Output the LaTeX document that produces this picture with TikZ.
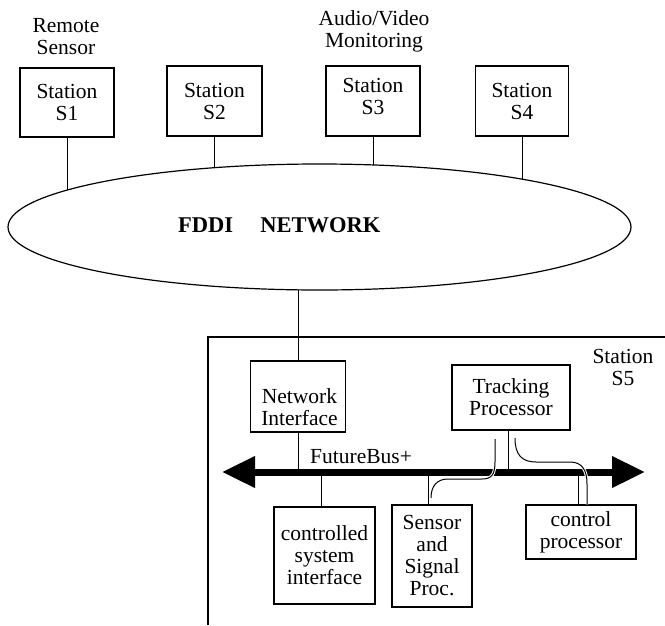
\documentclass[tikz,border=0pt]{standalone}
\usepackage{fontspec}
\setmainfont{Liberation Serif}
\usetikzlibrary{shapes.geometric,arrows.meta}
\begin{document}
\begin{tikzpicture}[x=1pt,y=-1pt,
  box/.style={draw, line width=1.1pt, rectangle, inner sep=0pt, align=center},
  txt/.style={inner sep=0pt, align=center},
  conn/.style={line width=1pt},
  wire/.style={line width=1pt, preaction={draw=white, line width=3pt}},
  busline/.style={line width=7pt, {Triangle[length=33pt,width=30pt]}-{Triangle[length=33pt,width=30pt]}},
  font=\fontsize{21.5}{22}\selectfont]
\useasboundingbox (0,0) rectangle (665,625);

% top labels
\node[txt] (rs) at (66,36.5) {Remote\\Sensor};
\node[txt] (av) at (374,31) {Audio/Video\\Monitoring};

% stations
\node[box, minimum width=94pt, minimum height=69pt] (s1) at (67,102.5) {Station\\S1};
\node[box, minimum width=95pt, minimum height=70pt] (s2) at (214.5,101) {Station\\S2};
\node[box, minimum width=94pt, minimum height=70pt] (s3) at (373,101) {};
\node[txt] (s3t) at (373,96) {Station\\S3};
\node[box, minimum width=93pt, minimum height=70pt] (s4) at (522,101) {Station\\S4};

% FDDI ring
\node[draw, ellipse, line width=1.2pt, minimum width=623pt, minimum height=126pt, inner sep=0pt] (net) at (319.5,227) {};
\node[txt, anchor=base west, font=\fontsize{22.5}{23}\selectfont\bfseries] (netlab) at (178,232.5) {FDDI\hspace{21.5pt} NETWORK};

\coordinate (e1) at (67,190.1);
\coordinate (e2) at (214.5,167.7);
\coordinate (e3) at (373,164.9);
\coordinate (e4) at (522,179.5);
\coordinate (e5) at (298,289.9);

\draw[conn] (s1.south) -- (e1);
\draw[conn] (s2.south) -- (e2);
\draw[conn] (s3.south) -- (e3);
\draw[conn] (s4.south) -- (e4);

% station S5 frame
\coordinate (fbl) at (208,625);
\coordinate (ftl) at (208,337);
\coordinate (ftr) at (665,337);
\draw[line width=1.2pt] (fbl) -- (ftl) -- (ftr);
\node[txt] (s5) at (623,367) {Station\\S5};

% S5 internals
\node[box, minimum width=95pt, minimum height=71pt] (ni) at (298,396.5) {};
\node[txt] (nit) at (299.5,407.5) {Network\\Interface};
\node[box, minimum width=118pt, minimum height=65pt] (tp) at (511,397.5) {Tracking\\Processor};
\node[box, minimum width=101pt, minimum height=97pt] (csi) at (324.5,555.5) {controlled\\system\\interface};
\node[box, minimum width=80pt, minimum height=102pt] (ssp) at (432,556) {Sensor\\and\\Signal\\Proc.};
\node[box, minimum width=110pt, minimum height=54pt] (cp) at (581,532) {control\\processor};

\coordinate (busL) at (222,472);
\coordinate (busR) at (645,472);

\draw[conn] (e5) -- (ni.north);
\draw[conn] (ni.south) -- (ni.south |- busL);
\draw[conn] ([xshift=-3pt]tp.south) -- ([xshift=-3pt]tp.south |- busL);
\draw[conn] ([xshift=-3.5pt]csi.north) -- ([xshift=-3.5pt]csi.north |- busL);
\draw[conn] ([xshift=-4pt]ssp.north) -- ([xshift=-4pt]ssp.north |- busL);
\draw[conn] ([xshift=-3pt]cp.north) -- ([xshift=-3pt]cp.north |- busL);

% FutureBus+
\draw[busline] (busL) -- (busR);
\node[txt, anchor=base west] (fb) at (310,463) {FutureBus+};

% wires crossing the bus
\coordinate (wa1) at (495,439);
\coordinate (wa2) at (431,498);
\draw[wire] (wa1) -- (495,462) .. controls (495,474) and (492,479) .. (482,479)
  -- (448,479) .. controls (437,479) and (431,486) .. (wa2);
\coordinate (wb1) at (515,438);
\draw[wire] (wb1) .. controls (515,455) and (522,462) .. (536,462)
  -- (570,462) .. controls (582,462) and (587,470) .. (587,484)
  -- ([xshift=6pt]cp.north);
\end{tikzpicture}
\end{document}
